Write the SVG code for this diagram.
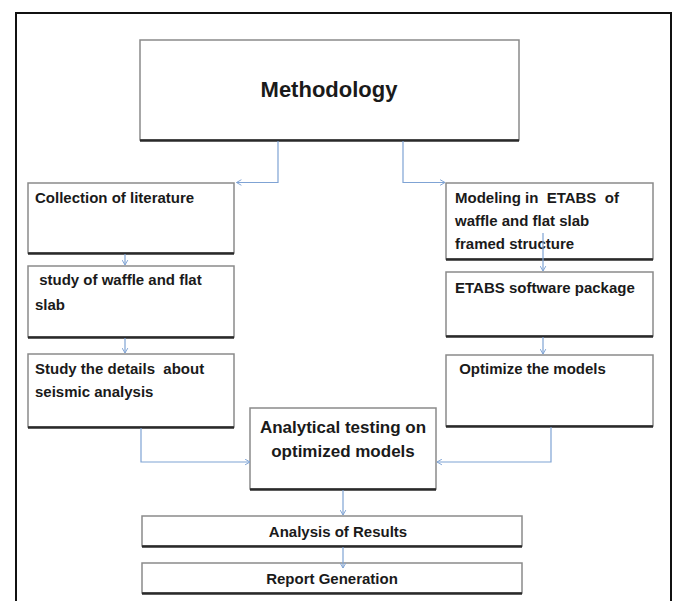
<svg xmlns="http://www.w3.org/2000/svg" width="675" height="601" viewBox="0 0 675 601">
<defs>
<style>
.box{fill:#fff;stroke:#8a8a8a;stroke-width:1.5}
.sh{stroke:#2a2a2a;stroke-width:2.5;fill:none}
.t{font-family:"Liberation Sans",Arial,sans-serif;font-weight:bold;font-size:15px;fill:#1a1a1a;white-space:pre}
.c{text-anchor:middle}
.conn{fill:none;stroke:#7fa3d4;stroke-width:1.2}
</style>
<marker id="ah" viewBox="0 0 10 10" refX="9" refY="5" markerWidth="7" markerHeight="7" markerUnits="userSpaceOnUse" orient="auto">
<polyline points="2,1 9,5 2,9" fill="none" stroke="#7fa3d4" stroke-width="1.4"/>
</marker>
</defs>
<rect width="675" height="601" fill="#fff"/>
<path d="M16,601 V13 H671 V601" fill="none" stroke="#111" stroke-width="2"/>

<g id="methodology">
<rect class="box" x="140" y="40" width="379" height="100"/>
<line class="sh" x1="140" y1="140.5" x2="519" y2="140.5"/>
<text class="t c" x="329" y="97" style="font-size:22px">Methodology</text>
</g>

<g id="collection">
<rect class="box" x="28" y="183" width="206" height="70"/>
<line class="sh" x1="28" y1="253.5" x2="234" y2="253.5"/>
<text class="t" x="35" y="203">Collection of literature</text>
</g>

<g id="study-slab">
<rect class="box" x="28" y="266" width="206" height="71"/>
<line class="sh" x1="28" y1="337.5" x2="234" y2="337.5"/>
<text class="t" x="35" y="285"> study of waffle and flat</text>
<text class="t" x="35" y="310">slab</text>
</g>

<g id="study-seismic">
<rect class="box" x="28" y="354" width="206" height="73"/>
<line class="sh" x1="28" y1="427.5" x2="234" y2="427.5"/>
<text class="t" x="35" y="374">Study the details  about</text>
<text class="t" x="35" y="397">seismic analysis</text>
</g>

<g id="modeling">
<rect class="box" x="446" y="183" width="207" height="76"/>
<line class="sh" x1="446" y1="259.5" x2="653" y2="259.5"/>
<text class="t" x="455" y="203">Modeling in  ETABS  of</text>
<text class="t" x="455" y="226">waffle and flat slab</text>
<text class="t" x="455" y="249">framed structure</text>
</g>

<g id="etabs">
<rect class="box" x="446" y="272" width="207" height="64"/>
<line class="sh" x1="446" y1="336.5" x2="653" y2="336.5"/>
<text class="t" x="455" y="293">ETABS software package</text>
</g>

<g id="optimize">
<rect class="box" x="446" y="355" width="207" height="71"/>
<line class="sh" x1="446" y1="426.5" x2="653" y2="426.5"/>
<text class="t" x="455" y="374"> Optimize the models</text>
</g>

<g id="analytical">
<rect class="box" x="250" y="408" width="186" height="81"/>
<line class="sh" x1="250" y1="489.5" x2="436" y2="489.5"/>
<text class="t c" x="343" y="433" style="font-size:17px">Analytical testing on</text>
<text class="t c" x="343" y="457" style="font-size:17px">optimized models</text>
</g>

<g id="results">
<rect class="box" x="142" y="516" width="380" height="30"/>
<line class="sh" x1="142" y1="546.5" x2="522" y2="546.5"/>
<text class="t c" x="338" y="537">Analysis of Results</text>
</g>

<g id="report">
<rect class="box" x="142" y="563" width="380" height="30"/>
<line class="sh" x1="142" y1="593.5" x2="522" y2="593.5"/>
<text class="t c" x="332" y="584">Report Generation</text>
</g>

<g id="connectors">
<path class="conn" d="M278,141 V182.5 H236.5" marker-end="url(#ah)"/>
<path class="conn" d="M403,141 V182.5 H445" marker-end="url(#ah)"/>
<path class="conn" d="M125,254 V265" marker-end="url(#ah)"/>
<path class="conn" d="M125,338 V353" marker-end="url(#ah)"/>
<path class="conn" d="M543,233 V271" marker-end="url(#ah)"/>
<path class="conn" d="M543,337 V354" marker-end="url(#ah)"/>
<path class="conn" d="M141,428 V462 H250" marker-end="url(#ah)"/>
<path class="conn" d="M551,427 V462 H437" marker-end="url(#ah)"/>
<path class="conn" d="M343,490 V515" marker-end="url(#ah)"/>
<path class="conn" d="M343,547 V568" marker-end="url(#ah)"/>
</g>
</svg>
